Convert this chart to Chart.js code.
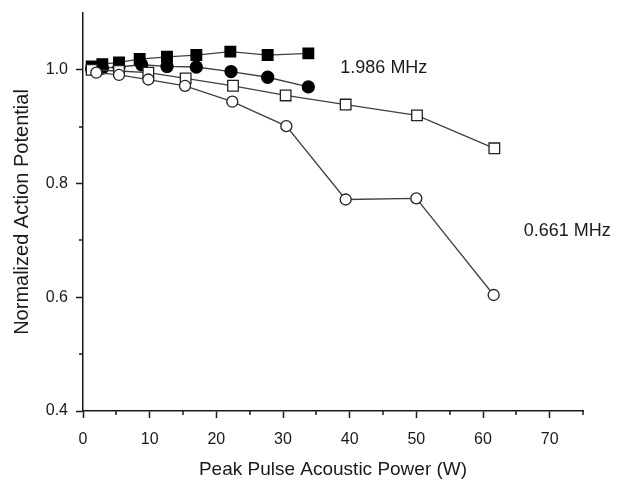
<!DOCTYPE html>
<html>
<head>
<meta charset="utf-8">
<script src="https://cdn.jsdelivr.net/npm/chart.js@4.4.1/dist/chart.umd.min.js"></script>
<style>
html,body{margin:0;padding:0;background:#fff;}
#wrap{width:628px;height:481px;position:relative;}
</style>
</head>
<body>
<div id="wrap"><canvas id="c" width="628" height="481"></canvas></div>
<script>
// 1.986 MHz series
const xHigh = [1.3, 2.9, 5.4, 8.5, 12.6, 17.0, 22.1, 27.7, 33.8];
const filledSquares = [1.006, 1.010, 1.013, 1.019, 1.023, 1.026, 1.032, 1.026, 1.029];
const xHighC = [1.3, 2.9, 5.4, 8.8, 12.6, 17.0, 22.2, 27.7, 33.8];
const filledCircles = [1.002, 1.003, 1.005, 1.009, 1.006, 1.005, 0.997, 0.987, 0.970];
// 0.661 MHz series
const xLowS = [1.3, 5.4, 9.8, 15.4, 22.5, 30.4, 39.4, 50.1, 61.7];
const openSquares = [1.000, 0.998, 0.995, 0.985, 0.972, 0.955, 0.939, 0.920, 0.862];
const xLowC = [2.0, 5.4, 9.8, 15.3, 22.4, 30.5, 39.4, 50.0, 61.6];
const openCircles = [0.995, 0.991, 0.983, 0.972, 0.944, 0.901, 0.772, 0.774, 0.604];

const xTickLabels = [0, 10, 20, 30, 40, 50, 60, 70];
const xMinorTicks = [5, 15, 25, 35, 45, 55, 65, 75];
const yTickLabels = [0.4, 0.6, 0.8, 1.0];
const yMinorTicks = [0.5, 0.7, 0.9];
const annotations = [
  {text: '1.986 MHz', x: 38.6, y: 1.003},
  {text: '0.661 MHz', x: 66.1, y: 0.716}
];

const FONT = "'Liberation Sans', Arial, sans-serif";
const INK = '#1a1a1a';
const LINE = '#404040';

function pts(xs, ys){ return xs.map((x,i)=>({x:x, y:ys[i]})); }

const minorTicks = {
  id: 'minorTicks',
  afterDraw(chart){
    const ctx = chart.ctx;
    const xs = chart.scales.x, ys = chart.scales.y;
    ctx.save();
    ctx.strokeStyle = INK;
    ctx.lineWidth = 1.5;
    ctx.beginPath();
    xMinorTicks.forEach(v=>{
      const p = Math.round(xs.getPixelForValue(v));
      ctx.moveTo(p, xs.top); ctx.lineTo(p, xs.top + 4);
    });
    yMinorTicks.forEach(v=>{
      const p = Math.round(ys.getPixelForValue(v));
      ctx.moveTo(ys.right, p); ctx.lineTo(ys.right - 4, p);
    });
    ctx.stroke();
    ctx.fillStyle = INK;
    ctx.font = '18px ' + FONT;
    ctx.textBaseline = 'middle';
    ctx.textAlign = 'left';
    annotations.forEach(a=>{
      ctx.fillText(a.text, xs.getPixelForValue(a.x), ys.getPixelForValue(a.y));
    });
    ctx.restore();
  }
};

const common = {
  borderColor: LINE,
  borderWidth: 1.3,
  pointBorderColor: '#222',
  pointBorderWidth: 1.3,
  showLine: true,
  tension: 0,
  fill: false
};

new Chart(document.getElementById('c'), {
  type: 'scatter',
  data: {
    datasets: [
      Object.assign({}, common, {label:'0.661 MHz open circles', data: pts(xLowC, openCircles), pointStyle:'circle', pointRadius:5.5, pointBackgroundColor:'#fff'}),
      Object.assign({}, common, {label:'0.661 MHz open squares', data: pts(xLowS, openSquares), pointStyle:'rect', pointRadius:7.5, pointBackgroundColor:'#fff'}),
      Object.assign({}, common, {label:'1.986 MHz filled circles', data: pts(xHighC, filledCircles), pointStyle:'circle', pointRadius:6, pointBackgroundColor:'#000', pointBorderColor:'#000'}),
      Object.assign({}, common, {label:'1.986 MHz filled squares', data: pts(xHigh, filledSquares), pointStyle:'rect', pointRadius:7.5, pointBackgroundColor:'#000', pointBorderColor:'#000'})
    ]
  },
  options: {
    responsive: false,
    animation: false,
    layout: {padding: {top: 13, right: 45, left: 0, bottom: 0}},
    plugins: {legend: {display: false}, tooltip: {enabled: false}},
    scales: {
      x: {
        type: 'linear', min: 0, max: 75,
        afterBuildTicks(s){ s.ticks = xTickLabels.map(v=>({value:v})); },
        afterFit(s){ s.height = 70; s.paddingLeft = 0; s.paddingRight = 0; },
        border: {display: true, color: INK, width: 1.5},
        grid: {display: true, drawOnChartArea: false, drawTicks: true, tickLength: 7, color: INK, tickWidth: 1.5},
        ticks: {color: INK, font: {family: FONT, size: 16}, padding: 12, maxRotation: 0,
                callback: v => String(v)},
        title: {display: true, text: 'Peak Pulse Acoustic Power (W)', color: INK, font: {family: FONT, size: 19, lineHeight: 1.2}, padding: {top: 0, bottom: 0}}
      },
      y: {
        type: 'linear', min: 0.4, max: 1.1,
        afterBuildTicks(s){ s.ticks = yTickLabels.map(v=>({value:v})); },
        afterFit(s){ s.width = 83; s.paddingTop = 0; s.paddingBottom = 0; },
        border: {display: true, color: INK, width: 1.5},
        grid: {display: true, drawOnChartArea: false, drawTicks: true, tickLength: 7, color: INK, tickWidth: 1.5},
        ticks: {color: INK, font: {family: FONT, size: 16}, padding: 8,
                callback: v => Number(v).toFixed(1)},
        title: {display: true, text: 'Normalized Action Potential', color: INK, font: {family: FONT, size: 20}, padding: {top: 10, bottom: 0}}
      }
    }
  },
  plugins: [minorTicks]
});
</script>
</body>
</html>
